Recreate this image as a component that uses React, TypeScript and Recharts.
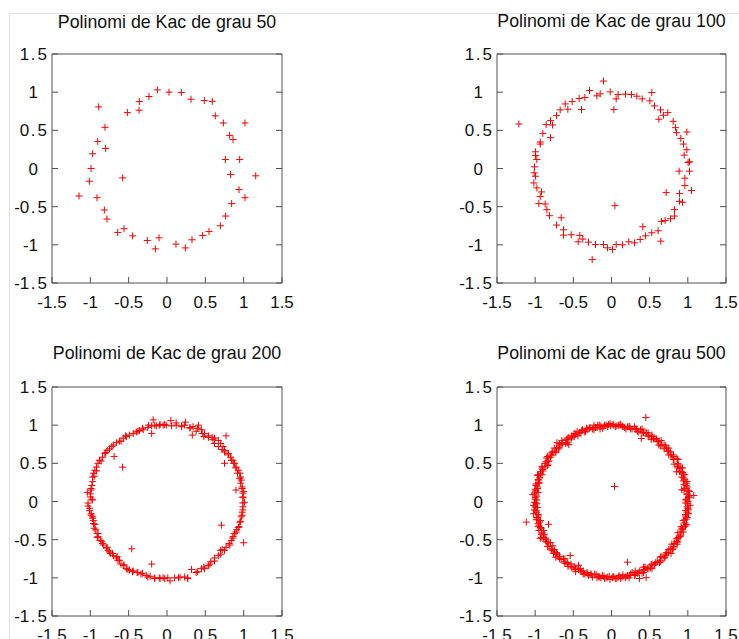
import React from 'react';
import { ScatterChart, Scatter, XAxis, YAxis } from 'recharts';

const TICKS = [-1.5, -1, -0.5, 0, 0.5, 1, 1.5];
const DOMAIN: [number, number] = [-1.5, 1.5];
const TITLES = [
  'Polinomi de Kac de grau 50',
  'Polinomi de Kac de grau 100',
  'Polinomi de Kac de grau 200',
  'Polinomi de Kac de grau 500',
];

const roots50: [number, number][] = [
  [-0.126, 1.03], [0.026, 1.0], [0.187, 0.996], [0.313, 0.908], [0.487, 0.89], [0.591, 0.88],
  [0.63, 0.69], [0.735, 0.596], [1.017, 0.596], [0.817, 0.434], [0.861, 0.38], [0.761, 0.118],
  [0.948, 0.118], [0.83, -0.079], [1.157, -0.096], [0.939, -0.276], [1.017, -0.382], [0.843, -0.46],
  [0.765, -0.623], [0.696, -0.75], [0.548, -0.825], [0.465, -0.877], [0.326, -0.934], [0.239, -1.04],
  [0.117, -0.991], [-0.104, -0.908], [-0.152, -1.053], [-0.257, -0.943], [-0.448, -0.882], [-0.561, -0.789],
  [-0.643, -0.838], [-0.783, -0.662], [-0.817, -0.544], [-0.913, -0.382], [-1.148, -0.36], [-1.013, -0.167],
  [-0.578, -0.123], [-0.991, 0.0], [-0.97, 0.193], [-0.8, 0.263], [-0.904, 0.355], [-0.809, 0.539],
  [-0.891, 0.807], [-0.517, 0.732], [-0.365, 0.763], [-0.361, 0.877], [-0.235, 0.943],
];

const roots100: [number, number][] = [
  [-1.214, 0.583], [-0.105, 1.145], [-0.288, 1.022], [-0.017, 1.004], [-0.192, 0.952], [-0.148, 0.978],
  [-0.349, 0.93], [-0.424, 0.917], [-0.515, 0.877], [-0.607, 0.846], [-0.572, 0.776], [-0.393, 0.772],
  [-0.672, 0.768], [-0.72, 0.693], [-0.799, 0.627], [-0.773, 0.57], [-0.856, 0.575], [-0.799, 0.404],
  [-0.9, 0.46], [-0.934, 0.346], [-0.934, 0.32], [-0.996, 0.219], [-0.996, 0.171], [-0.978, 0.118],
  [-1.009, 0.022], [-1.013, -0.057], [-0.996, -0.101], [-1.017, -0.189], [-0.978, -0.254], [-0.917, -0.307],
  [-0.934, -0.368], [-0.952, -0.46], [-0.869, -0.465], [-0.847, -0.539], [-0.812, -0.618], [-0.659, -0.645],
  [-0.72, -0.741], [-0.629, -0.803], [-0.629, -0.873], [-0.528, -0.868], [-0.415, -0.877], [-0.376, -0.925],
  [-0.437, -0.96], [-0.301, -0.965], [-0.21, -0.996], [-0.253, -1.193], [-0.105, -0.996], [-0.052, -1.039],
  [0.013, -1.061], [0.061, -0.996], [0.144, -1.0], [0.227, -0.96], [0.301, -0.974], [0.376, -0.93],
  [0.41, -0.763], [0.445, -0.882], [0.528, -0.842], [0.611, -0.816], [0.646, -0.952], [0.655, -0.693],
  [0.703, -0.68], [0.773, -0.658], [0.825, -0.623], [0.825, -0.539], [0.716, -0.316], [0.891, -0.43],
  [0.93, -0.443], [0.891, -0.329], [1.048, -0.289], [0.961, -0.224], [0.961, -0.127], [0.886, -0.035],
  [1.022, -0.035], [1.004, 0.079], [1.022, 0.088], [0.952, 0.175], [0.987, 0.246], [0.943, 0.32],
  [0.908, 0.395], [0.987, 0.478], [0.852, 0.469], [0.838, 0.535], [0.808, 0.618], [0.738, 0.732],
  [0.681, 0.697], [0.642, 0.768], [0.62, 0.645], [0.563, 0.82], [0.502, 0.886], [0.528, 0.996],
  [0.402, 0.912], [0.332, 0.947], [0.262, 0.969], [0.183, 0.974], [0.087, 0.969], [0.061, 0.912],
  [0.031, 0.772], [0.044, -0.487],
];

const roots200: [number, number][] = [
  [-1.04, 0.12], [-0.99, 0.15], [-1.0, 0.06], [-0.98, 0.03], [-1.03, -0.02], [-1.03, -0.06], [-1.01, -0.09],
  [-0.99, -0.16], [-0.97, -0.2], [-0.96, -0.25], [-0.94, -0.3], [-0.93, -0.37], [-0.91, -0.42], [-0.9, -0.46],
  [-0.87, -0.51], [-0.84, -0.55], [-0.78, -0.6], [-0.77, -0.64], [-0.74, -0.68], [-0.7, -0.71], [-0.66, -0.74],
  [-0.64, -0.77], [-0.6, -0.82], [-0.57, -0.84], [-0.53, -0.88], [-0.49, -0.9], [-0.44, -0.91], [-0.39, -0.93],
  [-0.34, -0.95], [-0.27, -0.97], [-0.22, -0.98], [-0.16, -1.0], [-0.1, -1.0], [-0.05, -1.0], [0.01, -1.0],
  [0.1, -1.0], [0.17, -0.99], [0.23, -0.99], [0.27, -1.0], [0.38, -0.93], [0.45, -0.88], [0.48, -0.86],
  [0.54, -0.84], [0.57, -0.79], [0.62, -0.74], [0.67, -0.71], [0.7, -0.64], [0.72, -0.63], [0.77, -0.6],
  [0.81, -0.55], [0.84, -0.51], [0.86, -0.46], [0.88, -0.42], [0.91, -0.37], [0.93, -0.34], [0.95, -0.27],
  [0.97, -0.2], [0.98, -0.14], [0.99, -0.07], [1.01, -0.01], [0.99, 0.06], [1.0, 0.13], [0.98, 0.19],
  [0.97, 0.28], [0.96, 0.32], [0.95, 0.37], [0.93, 0.41], [0.9, 0.45], [0.88, 0.5], [0.86, 0.54], [0.83, 0.58],
  [0.8, 0.63], [0.75, 0.67], [0.73, 0.72], [0.7, 0.76], [0.67, 0.8], [0.62, 0.83], [0.59, 0.84], [0.54, 0.86],
  [0.49, 0.89], [0.45, 0.94], [0.4, 0.96], [0.34, 0.98], [0.3, 0.97], [0.23, 1.0], [0.19, 0.99], [0.12, 1.0],
  [0.06, 0.99], [-0.01, 1.0], [-0.05, 1.0], [-0.1, 1.0], [-0.14, 0.99], [-0.2, 0.99], [-0.25, 0.97],
  [-0.31, 0.94], [-0.36, 0.93], [-0.4, 0.91], [-0.44, 0.89], [-0.49, 0.87], [-0.53, 0.85], [-0.57, 0.83],
  [-0.62, 0.79], [-0.66, 0.77], [-0.7, 0.74], [-0.75, 0.69], [-0.78, 0.67], [-0.81, 0.63], [-0.84, 0.58],
  [-0.88, 0.54], [-0.9, 0.5], [-0.92, 0.45], [-0.94, 0.41], [-0.96, 0.37], [-0.97, 0.32], [-0.97, 0.26],
  [-0.98, 0.21], [-0.99, 0.17],
  [-0.24, 1.0], [-0.16, 1.0], [-0.09, 1.01], [-0.03, 1.01], [-0.32, 0.96], [-0.38, 0.92], [-0.54, 0.86],
  [-0.6, 0.79], [-0.72, 0.72], [-0.8, 0.64], [-0.86, 0.53], [-0.92, 0.4], [-0.95, 0.33], [-1.0, 0.1],
  [0.12, 1.03], [0.24, 1.04], [0.19, 0.98], [0.3, 0.96], [0.38, 0.92], [0.46, 0.89], [0.48, 0.85], [0.54, 0.84],
  [0.6, 0.81], [0.62, 0.76], [0.67, 0.72], [0.72, 0.68], [0.75, 0.65], [0.8, 0.61], [0.84, 0.54], [0.87, 0.5],
  [0.9, 0.44], [0.92, 0.37], [0.95, 0.3], [0.96, 0.24], [0.98, 0.17], [0.99, 0.11], [0.99, 0.05],
  [-0.97, 0.02], [-1.01, -0.12], [-0.99, -0.18], [-0.97, -0.22], [-0.96, -0.29], [-0.95, -0.35], [-0.9, -0.42],
  [-0.91, -0.47], [-0.85, -0.52], [-0.83, -0.57], [-0.79, -0.61], [-0.75, -0.66], [-0.71, -0.68], [-0.65, -0.72],
  [-0.62, -0.77], [-0.56, -0.83], [-0.51, -0.89], [-0.45, -0.92], [-0.38, -0.93], [-0.32, -0.94], [-0.25, -0.99],
  [-0.16, -1.01], [-0.09, -1.01], [-0.03, -1.01],
  [0.15, -1.0], [0.27, -1.01], [0.4, -0.92], [0.49, -0.88], [0.56, -0.82], [0.62, -0.78], [0.7, -0.69],
  [0.75, -0.64], [0.82, -0.57], [0.86, -0.48], [0.9, -0.4], [0.94, -0.33], [0.96, -0.26], [0.98, -0.18],
  [0.99, -0.11], [0.99, -0.02],
  [-0.69, 0.59], [-0.58, 0.45], [-0.2, 0.89], [-0.18, 1.07], [0.05, 1.06], [0.41, 1.0], [0.33, 0.87],
  [0.77, 0.86], [0.75, 0.5], [0.9, 0.15], [0.71, -0.31], [1.0, -0.54], [-0.46, -0.62], [-0.2, -0.82],
  [0.04, -1.04], [0.32, -0.89],
];

const roots500: [number, number][] = [
  [1.0, 0.0], [0.98, 0.03], [1.01, 0.07], [0.99, 0.1], [1.01, 0.14], [0.96, 0.17], [0.98, 0.21], [0.98, 0.24],
  [0.94, 0.27], [0.94, 0.31], [0.96, 0.35], [0.93, 0.38], [0.89, 0.39], [0.91, 0.44], [0.87, 0.46], [0.87, 0.5],
  [0.87, 0.55], [0.81, 0.55], [0.81, 0.59], [0.78, 0.61], [0.77, 0.65], [0.73, 0.66], [0.72, 0.7], [0.71, 0.73],
  [0.66, 0.74], [0.62, 0.74], [0.62, 0.79], [0.59, 0.82], [0.55, 0.82], [0.53, 0.85], [0.49, 0.85], [0.48, 0.9],
  [0.44, 0.9], [0.4, 0.9], [0.38, 0.94], [0.34, 0.92], [0.31, 0.95], [0.27, 0.95], [0.24, 0.98], [0.21, 0.98],
  [0.17, 0.97], [0.14, 0.99], [0.11, 1.0], [0.07, 0.99], [0.03, 1.0],
  [-0.01, 0.99], [-0.04, 1.01], [-0.07, 1.0], [-0.1, 0.98], [-0.14, 0.99], [-0.18, 1.0], [-0.21, 0.97],
  [-0.23, 0.94], [-0.28, 0.97], [-0.31, 0.95], [-0.34, 0.92], [-0.38, 0.94], [-0.4, 0.9], [-0.45, 0.92],
  [-0.47, 0.88], [-0.49, 0.85], [-0.52, 0.84], [-0.56, 0.84], [-0.59, 0.81], [-0.6, 0.76], [-0.64, 0.77],
  [-0.68, 0.76], [-0.69, 0.71], [-0.72, 0.7], [-0.73, 0.66], [-0.77, 0.65], [-0.79, 0.62], [-0.8, 0.58],
  [-0.85, 0.57], [-0.83, 0.52], [-0.87, 0.5], [-0.87, 0.46], [-0.91, 0.44], [-0.9, 0.4], [-0.93, 0.37],
  [-0.96, 0.35], [-0.94, 0.31], [-0.96, 0.28], [-0.95, 0.24], [-0.99, 0.21], [-0.97, 0.17], [-0.99, 0.14],
  [-1.01, 0.11], [-0.98, 0.07], [-1.0, 0.03],
  [-1.01, -0.01], [-0.98, -0.03], [-1.0, -0.07], [-1.01, -0.11], [-0.98, -0.14], [-0.96, -0.17], [-0.98, -0.21],
  [-0.98, -0.24], [-0.94, -0.27], [-0.95, -0.31], [-0.93, -0.34], [-0.95, -0.38], [-0.91, -0.41], [-0.88, -0.43],
  [-0.89, -0.47], [-0.86, -0.5], [-0.85, -0.53], [-0.8, -0.54], [-0.82, -0.59], [-0.79, -0.62], [-0.75, -0.63],
  [-0.76, -0.68], [-0.71, -0.69], [-0.7, -0.72], [-0.68, -0.75], [-0.63, -0.75], [-0.62, -0.79], [-0.58, -0.8],
  [-0.57, -0.85], [-0.53, -0.85], [-0.49, -0.85], [-0.47, -0.89], [-0.43, -0.89], [-0.41, -0.91], [-0.37, -0.91],
  [-0.35, -0.95], [-0.31, -0.95], [-0.27, -0.95], [-0.25, -0.99], [-0.2, -0.96], [-0.17, -0.98], [-0.14, -1.0],
  [-0.1, -0.98], [-0.07, -1.0], [-0.03, -0.98],
  [0.01, -1.0], [0.03, -0.99], [0.07, -1.01], [0.1, -0.97], [0.14, -0.99], [0.18, -1.0], [0.21, -0.97],
  [0.24, -0.97], [0.27, -0.93], [0.31, -0.96], [0.34, -0.94], [0.37, -0.91], [0.42, -0.93], [0.43, -0.89],
  [0.47, -0.88], [0.51, -0.87], [0.52, -0.83], [0.56, -0.83], [0.58, -0.8], [0.63, -0.8], [0.64, -0.77],
  [0.65, -0.72], [0.7, -0.73], [0.71, -0.69], [0.74, -0.67], [0.75, -0.63], [0.8, -0.63], [0.81, -0.59],
  [0.82, -0.55], [0.86, -0.54], [0.85, -0.49], [0.88, -0.47], [0.91, -0.44], [0.9, -0.4], [0.93, -0.37],
  [0.91, -0.33], [0.97, -0.32], [0.96, -0.28], [0.96, -0.24], [0.99, -0.21], [0.97, -0.17], [0.99, -0.14],
  [1.01, -0.11], [0.99, -0.07], [1.0, -0.03],
  [0.97, 0.02], [1.02, 0.05], [0.99, 0.09], [1.02, 0.13], [0.95, 0.15], [0.99, 0.19], [0.95, 0.22], [0.99, 0.26],
  [0.96, 0.29], [0.92, 0.32], [0.94, 0.36], [0.91, 0.39], [0.93, 0.44], [0.87, 0.44], [0.87, 0.48], [0.82, 0.49],
  [0.86, 0.56], [0.81, 0.57], [0.81, 0.61], [0.75, 0.61], [0.75, 0.66], [0.75, 0.7], [0.69, 0.69], [0.69, 0.74],
  [0.64, 0.73], [0.65, 0.8], [0.6, 0.79], [0.57, 0.82], [0.52, 0.81], [0.53, 0.87], [0.48, 0.86], [0.46, 0.9],
  [0.42, 0.9], [0.4, 0.95], [0.35, 0.91], [0.33, 0.95], [0.3, 0.98], [0.25, 0.95], [0.23, 0.98], [0.19, 0.95],
  [0.15, 0.98], [0.12, 1.01], [0.09, 1.0], [0.05, 0.98], [0.02, 1.01],
  [-0.02, 1.02], [-0.05, 0.98], [-0.09, 1.0], [-0.12, 0.96], [-0.16, 1.0], [-0.19, 0.97], [-0.23, 1.0],
  [-0.25, 0.95], [-0.29, 0.96], [-0.33, 0.96], [-0.35, 0.91], [-0.39, 0.93], [-0.42, 0.9], [-0.44, 0.86],
  [-0.49, 0.89], [-0.52, 0.86], [-0.53, 0.82], [-0.58, 0.83], [-0.58, 0.77], [-0.65, 0.8], [-0.65, 0.75],
  [-0.68, 0.73], [-0.69, 0.69], [-0.75, 0.7], [-0.73, 0.64], [-0.78, 0.64], [-0.79, 0.6], [-0.84, 0.59],
  [-0.82, 0.53], [-0.86, 0.52], [-0.84, 0.47], [-0.91, 0.46], [-0.9, 0.42], [-0.93, 0.39], [-0.91, 0.35],
  [-0.97, 0.34], [-0.96, 0.29], [-0.95, 0.25], [-0.99, 0.23], [-0.97, 0.19], [-1.0, 0.16], [-0.96, 0.12],
  [-1.03, 0.09], [-1.0, 0.05], [-0.98, 0.02],
  [-0.99, -0.02], [-1.02, -0.05], [-0.97, -0.08], [-0.99, -0.12], [-1.02, -0.16], [-0.96, -0.19], [-0.98, -0.23],
  [-0.93, -0.25], [-0.96, -0.29], [-0.96, -0.33], [-0.92, -0.35], [-0.89, -0.38], [-0.92, -0.43], [-0.92, -0.47],
  [-0.86, -0.48], [-0.86, -0.52], [-0.83, -0.54], [-0.84, -0.59], [-0.77, -0.58], [-0.78, -0.64], [-0.75, -0.66],
  [-0.72, -0.67], [-0.73, -0.73], [-0.68, -0.72], [-0.66, -0.76], [-0.61, -0.75], [-0.61, -0.81], [-0.57, -0.82],
  [-0.53, -0.82], [-0.52, -0.87], [-0.48, -0.87], [-0.47, -0.92], [-0.41, -0.88], [-0.39, -0.92], [-0.37, -0.95],
  [-0.32, -0.93], [-0.3, -0.97], [-0.26, -0.96], [-0.22, -0.95], [-0.19, -1.0], [-0.16, -0.99], [-0.12, -0.97],
  [-0.09, -1.01], [-0.05, -0.99], [-0.02, -1.02],
  [0.02, -0.98], [0.05, -1.01], [0.09, -0.99], [0.12, -1.01], [0.15, -0.96], [0.19, -0.98], [0.23, -1.0],
  [0.25, -0.95], [0.3, -0.97], [0.31, -0.91], [0.36, -0.93], [0.4, -0.94], [0.42, -0.9], [0.44, -0.86],
  [0.49, -0.88], [0.53, -0.88], [0.53, -0.82], [0.57, -0.82], [0.6, -0.79], [0.64, -0.79], [0.64, -0.73],
  [0.69, -0.74], [0.71, -0.71], [0.72, -0.67], [0.78, -0.68], [0.77, -0.62], [0.81, -0.61], [0.79, -0.56],
  [0.86, -0.56], [0.86, -0.52], [0.86, -0.48], [0.9, -0.46], [0.87, -0.41], [0.94, -0.4], [0.92, -0.35],
  [0.95, -0.33], [0.98, -0.3], [0.94, -0.25], [0.98, -0.23], [0.97, -0.19], [1.01, -0.16], [0.97, -0.12],
  [1.0, -0.09], [1.03, -0.05], [0.97, -0.02],
  [0.45, 1.1], [0.39, 0.826], [0.04, 0.197], [-0.56, 0.745], [-0.15, 0.95], [-0.715, 0.77], [1.078, 0.079],
  [0.92, 0.153], [0.85, 0.389], [-0.833, 0.478], [-1.116, -0.27], [-0.825, -0.299], [-0.541, -0.708],
  [-0.432, -0.835], [0.209, -0.795], [0.366, -1.009], [0.454, -0.998], [0.42, -0.86], [0.856, -0.525],
  [-0.933, -0.482],
];

// margins exclude the 1px reserved by each axis
const PANELS = [
  { data: roots50, title: TITLES[0], left: 0, top: 0, w: 370, h: 320, m: { top: 53, left: 51, right: 87, bottom: 36 }, titleY: 27.5 },
  { data: roots100, title: TITLES[1], left: 370, top: 0, w: 369, h: 320, m: { top: 53, left: 126, right: 12, bottom: 36 }, titleY: 27 },
  { data: roots200, title: TITLES[2], left: 0, top: 320, w: 370, h: 319, m: { top: 66, left: 51, right: 87, bottom: 22 }, titleY: 38.5 },
  { data: roots500, title: TITLES[3], left: 370, top: 320, w: 369, h: 319, m: { top: 66, left: 126, right: 12, bottom: 22 }, titleY: 38.5 },
];

const AXIS = '#505050';
const TEXT = '#111';
const FONT = '"Liberation Sans", Arial, sans-serif';
const FS = 17;
const TITLE_FS = 17.8;
const TL = 6;
const HALF = 3.5;

const fmt = (v: number) => String(v);

const BottomTick = (p: any) => {
  const { x, y, payload } = p;
  return (
    <g>
      <line x1={x} y1={y} x2={x} y2={y - TL} stroke={AXIS} strokeWidth={1} />
      <text x={x} y={y + 25} textAnchor="middle" fontFamily={FONT} fontSize={FS} fill={TEXT}>{fmt(payload.value)}</text>
    </g>
  );
};
const LeftTick = (p: any) => {
  const { x, y, payload } = p;
  const s = fmt(payload.value);
  const dot = s.indexOf('.');
  let content: React.ReactNode = s;
  if (dot >= 0) {
    content = [
      <tspan key="a">{s.slice(0, dot)}</tspan>,
      <tspan key="b" dx={1.5}>.</tspan>,
      <tspan key="c" dx={2}>{s.slice(dot + 1)}</tspan>,
    ];
  }
  const off = dot >= 0 ? 5 : 14;
  return (
    <g>
      <line x1={x} y1={y} x2={x + TL} y2={y} stroke={AXIS} strokeWidth={1} />
      <text x={x - off} y={y + 6} textAnchor="end" fontFamily={FONT} fontSize={FS} fill={TEXT}>{content}</text>
    </g>
  );
};
const TopTick = (p: any) => (
  <line x1={p.x} y1={p.y} x2={p.x} y2={p.y + TL} stroke={AXIS} strokeWidth={1} />
);
const RightTick = (p: any) => (
  <line x1={p.x} y1={p.y} x2={p.x - TL} y2={p.y} stroke={AXIS} strokeWidth={1} />
);

const Plus = (p: any) => {
  const { cx, cy } = p;
  if (cx == null || cy == null) return <g />;
  return <path d={`M${cx - HALF},${cy}h${2 * HALF}M${cx},${cy - HALF}v${2 * HALF}`} stroke="#ff0000" strokeWidth={1} fill="none" />;
};

function Panel({ cfg }: { cfg: typeof PANELS[number] }) {
  const pts = cfg.data.map(([x, y]) => ({ x, y }));
  const plotCx = cfg.m.left + 1 + (cfg.w - cfg.m.left - cfg.m.right - 2) / 2;
  return (
    <div style={{ position: 'absolute', left: cfg.left, top: cfg.top, width: cfg.w, height: cfg.h }}>
      <ScatterChart width={cfg.w} height={cfg.h} margin={cfg.m} style={{ overflow: 'visible' }}>
        <XAxis xAxisId="b" dataKey="x" type="number" orientation="bottom" domain={DOMAIN} ticks={TICKS}
          allowDataOverflow interval={0} height={1} tickSize={0} tickMargin={0} tickLine={false}
          axisLine={{ stroke: AXIS }} tick={<BottomTick />} />
        <XAxis xAxisId="t" type="number" orientation="top" domain={DOMAIN} ticks={TICKS}
          allowDataOverflow interval={0} height={1} tickSize={0} tickMargin={0} tickLine={false}
          axisLine={{ stroke: AXIS }} tick={<TopTick />} />
        <YAxis yAxisId="l" dataKey="y" type="number" orientation="left" domain={DOMAIN} ticks={TICKS}
          allowDataOverflow interval={0} width={1} tickSize={0} tickMargin={0} tickLine={false}
          axisLine={{ stroke: AXIS }} tick={<LeftTick />} />
        <YAxis yAxisId="r" type="number" orientation="right" domain={DOMAIN} ticks={TICKS}
          allowDataOverflow interval={0} width={1} tickSize={0} tickMargin={0} tickLine={false}
          axisLine={{ stroke: AXIS }} tick={<RightTick />} />
        <Scatter xAxisId="b" yAxisId="l" data={pts} shape={<Plus />} isAnimationActive={false} />
      </ScatterChart>
      <svg width={cfg.w} height={cfg.h} style={{ position: 'absolute', left: 0, top: 0, pointerEvents: 'none' }}>
        <text x={plotCx} y={cfg.titleY} textAnchor="middle" fontFamily={FONT} fontSize={TITLE_FS} fill={TEXT}>{cfg.title}</text>
      </svg>
    </div>
  );
}

export default function App() {
  return (
    <div style={{ position: 'absolute', left: 0, top: 0, width: 739, height: 639, background: '#fff', overflow: 'hidden' }}>
      <svg width={739} height={639} style={{ position: 'absolute', left: 0, top: 0 }}>
        <line x1={9.5} y1={13.5} x2={739} y2={13.5} stroke="#e0e0e0" strokeWidth={1} />
        <line x1={9.5} y1={13.5} x2={9.5} y2={639} stroke="#e0e0e0" strokeWidth={1} />
      </svg>
      {PANELS.map((c, i) => <Panel key={i} cfg={c} />)}
    </div>
  );
}
